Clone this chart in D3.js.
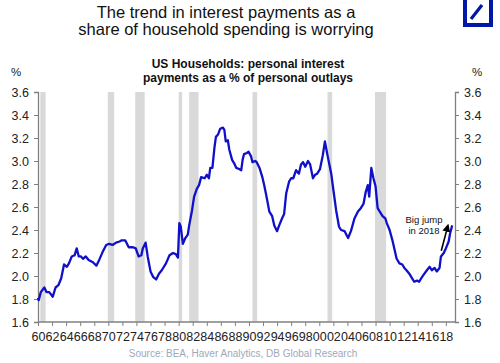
<!DOCTYPE html>
<html>
<head>
<meta charset="utf-8">
<script src="https://cdn.jsdelivr.net/npm/d3@7"></script>
<style>
  body { margin: 0; background: #fff; }
  svg { display: block; font-family: Arial, "Liberation Sans", sans-serif; }
</style>
</head>
<body>
<div id="chart"></div>
<script>
// interest payments as % of personal outlays
const years = [
  1960.0, 1960.1, 1960.4, 1960.9, 1961.2, 1961.6, 1962.1, 1962.5, 1962.9, 1963.3,
  1963.7, 1964.1, 1964.4, 1964.8, 1965.2, 1965.5, 1965.8, 1966.1, 1966.4, 1966.8,
  1967.2, 1967.8, 1968.3, 1968.7, 1969.2, 1969.7, 1970.1, 1970.6, 1971.1, 1971.6,
  1971.9, 1972.4, 1972.9, 1973.5, 1973.9, 1974.3, 1974.7, 1974.9, 1975.3, 1975.6,
  1976.0, 1976.4, 1976.8, 1977.2, 1977.6, 1978.2, 1978.7, 1979.2, 1979.6, 1979.9,
  1980.1, 1980.3, 1980.6, 1980.95, 1981.3, 1981.5, 1981.9, 1982.2, 1982.6, 1982.9,
  1983.2, 1983.7, 1984.0, 1984.3, 1984.5, 1984.8, 1985.1, 1985.3, 1985.6, 1985.9,
  1986.3, 1986.5, 1986.7, 1987.0, 1987.2, 1987.6, 1987.9, 1988.2, 1988.6, 1988.9,
  1989.1, 1989.3, 1989.7, 1989.95, 1990.3, 1990.5, 1990.9, 1991.1, 1991.5, 1991.9,
  1992.2, 1992.5, 1992.9, 1993.3, 1993.6, 1994.0, 1994.3, 1994.7, 1995.0, 1995.3,
  1995.7, 1996.0, 1996.3, 1996.7, 1997.1, 1997.4, 1997.7, 1998.0, 1998.4, 1998.7,
  1999.1, 1999.4, 1999.7, 2000.1, 2000.5, 2000.8, 2001.2, 2001.7, 2002.0, 2002.4,
  2002.8, 2003.1, 2003.6, 2004.1, 2004.5, 2005.0, 2005.5, 2005.9, 2006.3, 2006.6,
  2006.9, 2007.1, 2007.4, 2007.7, 2008.0, 2008.3, 2008.6, 2009.0, 2009.4, 2009.6,
  2010.0, 2010.4, 2010.7, 2011.0, 2011.4, 2011.8, 2012.1, 2012.4, 2012.8, 2013.2,
  2013.5, 2013.9, 2014.2, 2014.6, 2014.95, 2015.3, 2015.7, 2016.0, 2016.4, 2016.7,
  2017.1, 2017.3, 2017.7, 2018.0, 2018.4, 2018.6, 2018.9
]
const share = [
  1.81, 1.79, 1.86, 1.90, 1.86, 1.86, 1.82, 1.90, 1.92, 1.98,
  2.10, 2.08, 2.11, 2.17, 2.18, 2.24, 2.17, 2.17, 2.15, 2.17,
  2.14, 2.12, 2.09, 2.14, 2.21, 2.27, 2.28, 2.27, 2.29, 2.30,
  2.31, 2.31, 2.25, 2.25, 2.24, 2.17, 2.18, 2.24, 2.29, 2.17,
  2.04, 1.99, 1.97, 2.02, 2.05, 2.11, 2.18, 2.20, 2.19, 2.16,
  2.46, 2.43, 2.28, 2.33, 2.36, 2.44, 2.57, 2.69, 2.76, 2.79,
  2.86, 2.85, 2.88, 2.85, 2.94, 2.94, 3.12, 3.21, 3.23, 3.28,
  3.29, 3.27, 3.17, 3.18, 3.10, 3.01, 2.98, 2.94, 2.93, 2.92,
  3.01, 3.06, 3.07, 3.08, 3.04, 2.99, 3.00, 2.99, 2.94, 2.86,
  2.78, 2.69, 2.56, 2.52, 2.44, 2.39, 2.44, 2.50, 2.54, 2.72,
  2.82, 2.85, 2.85, 2.92, 2.89, 2.97, 2.99, 2.95, 3.00, 2.97,
  2.85, 2.88, 2.89, 2.93, 3.05, 3.17, 3.04, 2.89, 2.75, 2.57,
  2.43, 2.40, 2.39, 2.33, 2.39, 2.50, 2.56, 2.59, 2.63, 2.73,
  2.79, 2.69, 2.94, 2.85, 2.78, 2.59, 2.56, 2.52, 2.50, 2.46,
  2.40, 2.31, 2.23, 2.15, 2.11, 2.10, 2.07, 2.05, 2.02, 1.98,
  1.95, 1.96, 1.95, 1.99, 2.02, 2.05, 2.08, 2.05, 2.07, 2.04,
  2.07, 2.17, 2.20, 2.24, 2.30, 2.37, 2.44
]
// NBER recessions, start / end as decimal years
const recessions = [
  [1960.33, 1961.08], [1969.92, 1970.83], [1973.83, 1975.17], [1980.0, 1980.5],
  [1981.5, 1982.83], [1990.5, 1991.17], [2001.17, 2001.83], [2007.92, 2009.5]
]
const yTicks = [1.6, 1.8, 2.0, 2.2, 2.4, 2.6, 2.8, 3.0, 3.2, 3.4, 3.6]
const xTicks = d3.range(1960, 2019, 2)

const width = 500
const height = 363
const margin = {top: 92, right: 45, bottom: 41, left: 38}

const svg = d3.select('#chart').append('svg')
  .attr('width', width)
  .attr('height', height)

const x = d3.scaleLinear().domain([1960, 2019.3]).range([margin.left, width - margin.right])
const y = d3.scaleLinear().domain([1.6, 3.6]).range([height - margin.bottom, margin.top])

// recession shading
svg.append('g').selectAll('rect')
  .data(recessions)
  .enter().append('rect')
  .attr('x', d => x(d[0]))
  .attr('width', d => x(d[1]) - x(d[0]))
  .attr('y', y(3.6))
  .attr('height', y(1.6) - y(3.6))
  .attr('fill', '#d9d9d9')

// axes
const axisColor = '#808080'
const left = svg.append('g')
  .attr('transform', 'translate(' + x(1960) + ',0)')
  .call(d3.axisLeft(y).tickValues(yTicks).tickFormat(d3.format('.1f')).tickSize(4).tickPadding(5))
const right = svg.append('g')
  .attr('transform', 'translate(' + x(2019.3) + ',0)')
  .call(d3.axisRight(y).tickValues(yTicks).tickFormat(d3.format('.1f')).tickSize(4).tickPadding(5))
const bottom = svg.append('g')
  .attr('transform', 'translate(0,' + y(1.6) + ')')
  .call(d3.axisBottom(x).tickValues(xTicks).tickFormat(d => String(d).slice(2)).tickSize(4).tickPadding(6))

;[left, right, bottom].forEach(a => {
  a.select('.domain').attr('stroke', axisColor).attr('stroke-width', 1.3)
  a.selectAll('.tick line').attr('stroke', axisColor)
  a.selectAll('text').attr('fill', '#222').style('font-size', '12.5px')
})
bottom.select('.domain').attr('d', 'M' + x(1960) + ',0H' + x(2019.3))

// the series
const line = d3.line()
  .x((d, i) => x(years[i]))
  .y(d => y(d))
svg.append('path')
  .datum(share)
  .attr('d', line)
  .attr('fill', 'none')
  .attr('stroke', '#1010c8')
  .attr('stroke-width', 2.3)
  .attr('stroke-linejoin', 'round')

// titles
const title = svg.append('text')
  .attr('text-anchor', 'middle')
  .attr('fill', '#111')
  .style('font-size', '16.5px')
title.append('tspan').attr('x', 226).attr('y', 17.5).text('The trend in interest payments as a')
title.append('tspan').attr('x', 226).attr('y', 35).text('share of household spending is worrying')

const sub = svg.append('text')
  .attr('text-anchor', 'middle')
  .attr('fill', '#111')
  .style('font-size', '12px')
  .style('font-weight', 'bold')
sub.append('tspan').attr('x', 248).attr('y', 67.5).text('US Households: personal interest')
sub.append('tspan').attr('x', 248).attr('y', 82).text('payments as a % of personal outlays')

svg.append('text').attr('x', 16).attr('y', 76).attr('text-anchor', 'middle')
  .style('font-size', '11.5px').attr('fill', '#222').text('%')
svg.append('text').attr('x', 477).attr('y', 76).attr('text-anchor', 'middle')
  .style('font-size', '11.5px').attr('fill', '#222').text('%')

// annotation
svg.append('defs').append('marker')
  .attr('id', 'head')
  .attr('viewBox', '0 0 10 10')
  .attr('refX', 8).attr('refY', 5)
  .attr('markerWidth', 5).attr('markerHeight', 5)
  .attr('orient', 'auto')
  .append('path').attr('d', 'M0,0L10,5L0,10z').attr('fill', '#000')
svg.append('line')
  .attr('x1', x(2017.35)).attr('y1', y(2.22))
  .attr('x2', x(2018.3)).attr('y2', y(2.44))
  .attr('stroke', '#000').attr('stroke-width', 1.6)
  .attr('marker-end', 'url(#head)')
const note = svg.append('text')
  .attr('text-anchor', 'middle')
  .attr('fill', '#111')
  .style('font-size', '9.5px')
note.append('tspan').attr('x', 424).attr('y', 223).text('Big jump')
note.append('tspan').attr('x', 424).attr('y', 234).text('in 2018')

// source line
svg.append('text')
  .attr('x', 243).attr('y', 357)
  .attr('text-anchor', 'middle')
  .attr('fill', '#9ea8bb')
  .style('font-size', '10px')
  .text('Source: BEA, Haver Analytics, DB Global Research')

// logo
svg.append('rect')
  .attr('x', 465).attr('y', -2).attr('width', 26).attr('height', 27)
  .attr('fill', 'none').attr('stroke', '#0018a8').attr('stroke-width', 4)
svg.append('line')
  .attr('x1', 471).attr('y1', 19).attr('x2', 482).attr('y2', 5)
  .attr('stroke', '#0018a8').attr('stroke-width', 3.2)
</script>
</body>
</html>
